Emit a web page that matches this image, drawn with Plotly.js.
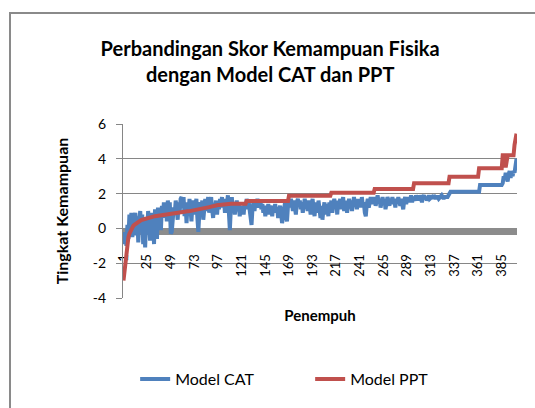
<!DOCTYPE html>
<html>
<head>
<meta charset="utf-8">
<script src="https://cdn.plot.ly/plotly-3.0.1.min.js"></script>
<style>
  html, body { margin:0; padding:0; background:#fff; overflow:hidden; }
  #chart { position:absolute; left:0; top:0; width:535px; height:408px; }
  #frame { position:absolute; left:9px; top:12px; width:600px; height:460px; border:2px solid #8a8a8a; pointer-events:none; }
</style>
</head>
<body>
<div id="chart"></div>
<div id="frame"></div>
<script>
// Tick labels of the category axis (Penempuh)
const xTickVals = [1,25,49,73,97,121,145,169,193,217,241,265,289,313,337,361,385];
const xTickText = ['1','25','49','73','97','121','145','169','193','217','241','265','289','313','337','361','385'];
// Tick labels of the value axis
const yTickVals = [-4,-2,0,2,4,6];
const yTickText = ['-4','-2','0','2','4','6'];

// Model CAT (400 test takers)
const modelCAT = [
-0.2,-0.9,-0.4,-1.0,0.2,-0.6,0.8,-0.3,0.9,-0.5,0.6,0.1,0.9,-0.4,0.7,-0.8,0.5,1.0,-0.2,0.8,
-0.9,0.4,-1.1,0.6,-0.3,1.0,0.2,-0.7,0.9,-0.2,0.7,-0.9,1.1,0.3,-0.6,1.2,0.5,0.9,-0.1,1.3,
0.6,1.5,0.9,1.4,0.4,1.6,1.0,1.5,-0.3,-0.2,0.3,1.2,0.8,1.6,1.1,0.5,1.5,0.9,1.7,1.8,
1.2,1.8,0.7,1.5,0.3,1.3,0.9,1.7,1.1,0.4,1.4,1.6,0.8,1.2,1.7,0.6,-0.2,0.9,1.5,1.1,
1.6,0.5,1.3,1.7,1.0,1.4,1.8,0.9,1.5,1.8,1.1,0.6,1.4,1.2,1.6,0.8,1.5,1.1,1.7,1.3,
1.8,1.2,1.6,0.9,1.7,1.4,1.9,0.0,-0.1,1.2,1.8,1.0,1.5,0.8,1.3,1.6,1.0,1.4,0.7,1.2,
1.0,1.3,0.8,1.5,1.1,1.7,1.4,1.6,1.1,0.5,0.2,1.2,1.5,1.0,1.6,1.3,1.7,1.2,1.5,1.6,
1.1,1.4,0.9,1.3,0.7,1.2,1.0,1.4,0.8,1.3,1.1,0.7,1.3,1.0,1.4,0.9,1.2,0.6,1.1,1.3,
0.9,0.3,0.6,1.2,1.5,1.0,0.4,1.3,1.6,1.2,1.7,1.4,1.0,1.6,1.2,0.8,1.5,1.7,1.3,1.6,
1.1,1.5,0.9,1.4,1.7,1.2,1.5,1.0,1.6,1.3,0.8,1.4,1.7,1.1,0.7,1.5,1.2,0.9,1.6,1.0,
0.6,1.3,0.5,1.1,1.5,0.8,1.4,1.2,0.7,1.5,1.1,1.6,0.9,1.4,1.7,1.2,1.5,0.8,1.6,1.3,
1.7,1.1,1.5,1.8,1.0,1.4,1.6,0.9,1.5,1.7,1.2,1.6,1.0,1.5,1.8,1.3,1.6,1.1,1.7,1.4,
1.6,1.2,1.8,1.3,1.5,0.9,0.7,1.4,1.7,1.2,1.6,1.8,1.4,1.7,1.5,1.8,1.3,1.6,1.9,1.5,
1.7,1.2,1.6,1.8,1.4,1.7,1.1,1.5,1.8,1.6,1.3,1.7,1.5,1.8,1.4,1.6,1.2,1.7,1.5,1.8,
1.6,1.3,1.7,1.5,1.1,1.6,1.8,1.4,1.7,1.5,1.8,1.6,1.9,1.5,1.8,1.7,1.6,1.9,1.7,1.8,
1.6,1.9,1.7,1.5,1.8,1.9,1.7,1.8,1.6,1.8,1.9,1.7,1.8,1.8,1.7,1.9,1.8,1.7,1.8,1.8,
1.7,1.8,1.8,1.9,1.8,1.7,1.8,1.8,1.8,1.8,1.9,2.1,2.1,2.1,2.1,2.1,2.1,2.1,2.1,2.1,
2.1,2.1,2.1,2.1,2.1,2.1,2.1,2.1,2.1,2.1,2.1,2.1,2.1,2.1,2.1,2.1,2.1,2.1,2.1,2.1,
2.1,2.1,2.5,2.5,2.5,2.5,2.5,2.5,2.5,2.5,2.5,2.5,2.5,2.5,2.5,2.5,2.5,2.5,2.5,2.5,
2.5,2.5,2.5,2.5,2.5,2.6,3.0,2.8,3.2,2.9,2.7,3.1,3.3,2.9,3.2,3.0,3.3,3.2,4.0,4.0
];

// Model PPT (400 test takers)
const modelPPT = [
-3.0,-2.4,-1.7,-1.2,-0.8,-0.5,-0.3,-0.15,0.0,0.1,0.15,0.2,0.25,0.3,0.35,0.4,0.42,0.45,0.48,0.5,
0.52,0.54,0.56,0.58,0.6,0.62,0.63,0.64,0.66,0.67,0.68,0.69,0.7,0.71,0.72,0.73,0.74,0.75,0.76,0.77,
0.78,0.79,0.8,0.81,0.82,0.84,0.85,0.86,0.86,0.87,0.88,0.88,0.89,0.9,0.9,0.91,0.92,0.93,0.94,0.95,
0.95,0.96,0.96,0.97,0.97,0.98,0.98,0.99,1.0,1.0,1.0,1.01,1.02,1.03,1.04,1.05,1.06,1.07,1.08,1.09,
1.1,1.11,1.12,1.14,1.16,1.18,1.2,1.22,1.24,1.26,1.28,1.29,1.3,1.31,1.32,1.33,1.34,1.35,1.36,1.37,
1.38,1.39,1.4,1.4,1.41,1.42,1.42,1.42,1.42,1.42,1.42,1.42,1.42,1.42,1.42,1.42,1.42,1.42,1.42,1.42,
1.42,1.42,1.42,1.42,1.42,1.57,1.57,1.57,1.57,1.57,1.57,1.57,1.57,1.57,1.57,1.57,1.57,1.57,1.57,1.57,
1.57,1.57,1.57,1.57,1.57,1.57,1.57,1.57,1.57,1.57,1.57,1.57,1.57,1.57,1.57,1.57,1.57,1.57,1.57,1.57,
1.57,1.57,1.57,1.57,1.57,1.57,1.57,1.57,1.88,1.88,1.88,1.88,1.88,1.88,1.88,1.88,1.88,1.88,1.88,1.88,
1.88,1.88,1.88,1.88,1.88,1.88,1.88,1.88,1.88,1.88,1.88,1.88,1.88,1.88,1.88,1.88,1.88,1.88,1.88,1.88,
1.88,1.88,1.88,1.88,1.88,1.88,1.88,1.88,1.88,1.88,1.88,2.05,2.05,2.05,2.05,2.05,2.05,2.05,2.05,2.05,
2.05,2.05,2.05,2.05,2.05,2.05,2.05,2.05,2.05,2.05,2.05,2.05,2.05,2.05,2.05,2.05,2.05,2.05,2.05,2.05,
2.05,2.05,2.05,2.05,2.05,2.05,2.05,2.05,2.05,2.05,2.05,2.05,2.05,2.05,2.05,2.27,2.27,2.27,2.27,2.27,
2.27,2.27,2.27,2.27,2.27,2.27,2.27,2.27,2.27,2.27,2.27,2.27,2.27,2.27,2.27,2.27,2.27,2.27,2.27,2.27,
2.27,2.27,2.27,2.27,2.27,2.27,2.27,2.27,2.27,2.27,2.27,2.27,2.27,2.27,2.27,2.6,2.6,2.6,2.6,2.6,
2.6,2.6,2.6,2.6,2.6,2.6,2.6,2.6,2.6,2.6,2.6,2.6,2.6,2.6,2.6,2.6,2.6,2.6,2.6,2.6,
2.6,2.6,2.6,2.6,2.6,2.6,2.6,2.6,2.6,2.6,2.6,2.97,2.97,2.97,2.97,2.97,2.97,2.97,2.97,2.97,
2.97,2.97,2.97,2.97,2.97,2.97,2.97,2.97,2.97,2.97,2.97,2.97,2.97,2.97,2.97,2.97,2.97,2.97,2.97,2.97,
2.97,3.45,3.45,3.45,3.45,3.45,3.45,3.45,3.45,3.45,3.45,3.45,3.45,3.45,3.45,3.45,3.45,3.45,3.45,3.45,
3.45,3.45,3.45,3.45,3.45,4.2,4.2,4.2,3.5,4.2,4.2,4.2,4.2,4.2,4.2,4.2,4.2,4.8,5.45,5.45
];

const FONT = 'Lato, "Open Sans", sans-serif';

const traces = [
  { type:'scatter', mode:'lines', name:'Model CAT', y: modelCAT, x0:1, dx:1,
    line:{ color:'#4F81BD', width:4, shape:'linear' }, hoverinfo:'skip' },
  { type:'scatter', mode:'lines', name:'Model PPT', y: modelPPT, x0:1, dx:1,
    line:{ color:'#C0504D', width:4, shape:'linear' }, hoverinfo:'skip' }
];

const layout = {
  width:535, height:408,
  margin:{ l:123, r:18, t:124, b:110, pad:0 },
  paper_bgcolor:'#ffffff', plot_bgcolor:'#ffffff',
  font:{ family:FONT, color:'#000000', size:13 },
  title:{
    text:'Perbandingan Skor Kemampuan Fisika<br>dengan Model CAT dan PPT',
    font:{ family:FONT, size:20, weight:'bold', color:'#000000' },
    x:0.505, xanchor:'center', xref:'container',
    y:0.863, yanchor:'top', yref:'container'
  },
  xaxis:{
    type:'linear', range:[0.5, 400.5], anchor:'free', position:0.385,
    showline:true, linecolor:'#8c8c8c', linewidth:7, layer:'below traces',
    showgrid:false, zeroline:false,
    tickmode:'array', tickvals:xTickVals, ticktext:xTickText, tickangle:-90,
    ticks:'', ticklabelstandoff:14,
    tickfont:{ family:FONT, size:13, color:'#000000' },
    title:{ text:'Penempuh', standoff:34, font:{ family:FONT, size:15, weight:'bold', color:'#000000' } },
    fixedrange:true
  },
  yaxis:{
    range:[-4, 6], tickmode:'array', tickvals:yTickVals, ticktext:yTickText,
    showgrid:true, gridcolor:'#868686', gridwidth:1,
    showline:true, linecolor:'#868686', linewidth:1,
    ticks:'outside', ticklen:6, tickcolor:'#868686', tickwidth:1,
    zeroline:false, ticklabelstandoff:7,
    tickfont:{ family:FONT, size:14, color:'#000000' },
    title:{ text:'Tingkat Kemampuan', standoff:20, font:{ family:FONT, size:16, weight:'bold', color:'#000000' } },
    fixedrange:true
  },
  showlegend:true,
  legend:{
    orientation:'h', x:0.475, xanchor:'center', y:-0.466, yanchor:'middle',
    entrywidth:130, entrywidthmode:'pixels',
    font:{ family:FONT, size:16, color:'#000000' },
    bgcolor:'rgba(0,0,0,0)', traceorder:'normal'
  }
};

Plotly.newPlot('chart', traces, layout, { displayModeBar:false, staticPlot:true });
</script>
</body>
</html>
